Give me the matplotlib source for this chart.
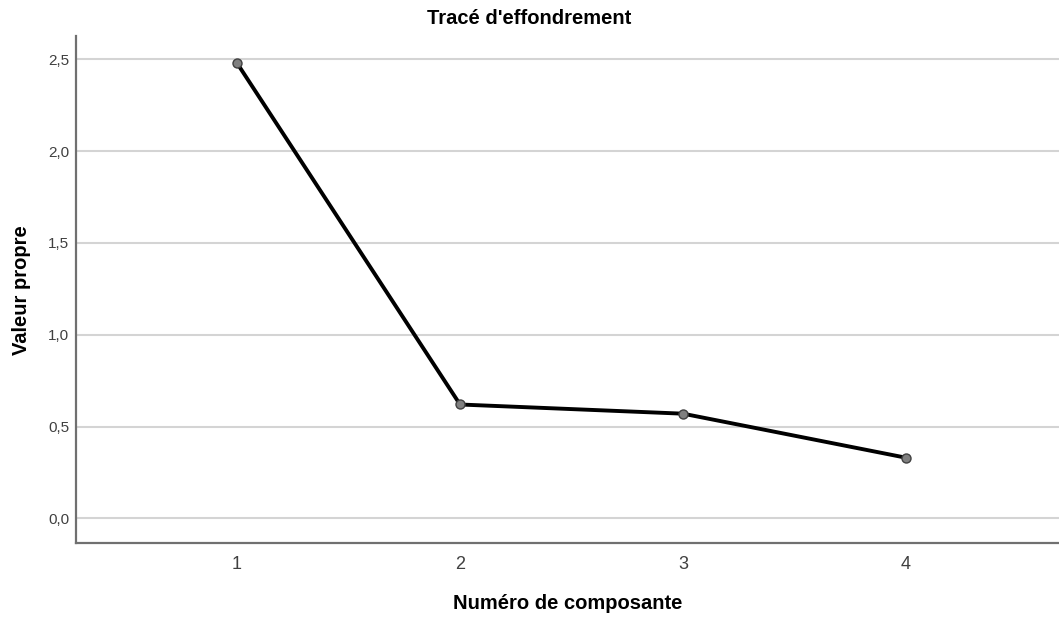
import matplotlib
matplotlib.use("Agg")
import matplotlib.pyplot as plt
from matplotlib.ticker import FixedLocator

plt.rcParams["font.family"] = ["Liberation Sans", "DejaVu Sans"]

components = [1, 2, 3, 4]
eigenvalues = [2.48, 0.62, 0.57, 0.33]
y_ticks = [0.0, 0.5, 1.0, 1.5, 2.0, 2.5]
y_tick_labels = ["0,0", "0,5", "1,0", "1,5", "2,0", "2,5"]

fig = plt.figure(figsize=(10.59, 6.23), dpi=100)
ax = fig.add_axes([0.0718, 0.128, 0.9282, 0.814])

ax.plot(components, eigenvalues, color="black", lw=2.8, zorder=3,
        marker="o", markersize=6.5, markerfacecolor="#808080",
        markeredgecolor="#404040", markeredgewidth=1.0)

ax.set_xlim(0.278, 4.686)
ax.set_ylim(-0.136, 2.627)
ax.xaxis.set_major_locator(FixedLocator(components))
ax.set_xticklabels([str(c) for c in components])
ax.set_yticks(y_ticks)
ax.set_yticklabels(y_tick_labels)

ax.grid(axis="y", color="#d4d4d4", lw=1.5)
ax.set_axisbelow(True)
ax.tick_params(axis="both", length=0)
ax.tick_params(axis="x", labelsize=13, colors="#404040", pad=9)
ax.tick_params(axis="y", labelsize=11, colors="#404040", pad=5)

for side in ["top", "right"]:
    ax.spines[side].set_visible(False)
for side in ["left", "bottom"]:
    ax.spines[side].set_color("#707070")
    ax.spines[side].set_linewidth(1.6)

ax.set_xlabel("Numéro de composante", fontsize=14.5, fontweight="bold", labelpad=15)
ax.set_ylabel("Valeur propre", fontsize=14.5, fontweight="bold", labelpad=12)
fig.text(0.5, 0.97, "Tracé d'effondrement", ha="center", va="center",
         fontsize=14.5, fontweight="bold")

fig.savefig("out.png", dpi=100)
